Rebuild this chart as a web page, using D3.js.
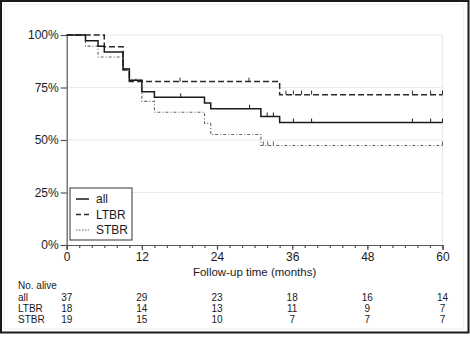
<!DOCTYPE html>
<html><head><meta charset="utf-8">
<script src="https://cdn.jsdelivr.net/npm/d3@7"></script>
<style>html,body{margin:0;padding:0;background:#fff}svg{display:block;font-family:Arial,"Liberation Sans",sans-serif}</style>
</head><body>
<script>
// ---- data ----
const seriesNames = ["all", "LTBR", "STBR"];
const allTimes = [0, 3, 5, 6, 9, 10, 12, 14, 22, 23, 31, 34];
const allSurv  = [100, 97.3, 94.6, 91.9, 83.8, 78.4, 73.0, 70.3, 67.6, 64.9, 61.2, 58.3];
const allCens  = [18.2, 29.2, 32, 33, 36.2, 39.1, 55.2, 58.1, 60];
const ltbrTimes = [0, 6, 9, 10, 34];
const ltbrSurv  = [100, 94.4, 83.3, 77.8, 71.6];
const ltbrCens  = [18.1, 29.1, 35, 36.2, 37.5, 39.1, 55.2, 58.1, 60];
const stbrTimes = [0, 3, 5, 9, 10, 12, 14, 22, 23, 31];
const stbrSurv  = [100, 94.7, 89.5, 84.2, 78.9, 68.4, 63.2, 57.9, 52.6, 47.4];
const stbrCens  = [31.4, 32.1, 33, 60];
const xTicks = [0, 12, 24, 36, 48, 60];
const yTicks = [0, 25, 50, 75, 100];
const yTickLabels = ["0%", "25%", "50%", "75%", "100%"];
const riskRows = ["all", "LTBR", "STBR"];
const riskAll  = [37, 29, 23, 18, 16, 14];
const riskLtbr = [18, 14, 13, 11, 9, 7];
const riskStbr = [19, 15, 10, 7, 7, 7];
const xTitle = "Follow-up time (months)";
const riskTitle = "No. alive";

const W = 470, H = 338;
const svg = d3.select("body").append("svg").attr("width", W).attr("height", H);

const x = d3.scaleLinear().domain([0, 60]).range([66.7, 442.5]);
const y = d3.scaleLinear().domain([0, 100]).range([245, 35]);

// outer frame
svg.append("rect").attr("x", 1).attr("y", 1).attr("width", 467.5).attr("height", 331.5)
  .attr("fill", "none").attr("stroke", "#1a1a1a").attr("stroke-width", 2);
svg.append("rect").attr("x", 4.5).attr("y", 4.5).attr("width", 459).attr("height", 324)
  .attr("fill", "none").attr("stroke", "#f2f4f4").attr("stroke-width", 1);

// gridlines
svg.append("g").selectAll("line").data(yTicks.filter(d => d > 0)).join("line")
  .attr("x1", x(0)).attr("x2", x(60)).attr("y1", d => y(d)).attr("y2", d => y(d))
  .attr("stroke", "#e3ecee").attr("stroke-width", 1.2);
svg.append("line").attr("x1", x(60)).attr("x2", x(60)).attr("y1", y(100)).attr("y2", y(0))
  .attr("stroke", "#e3ecee").attr("stroke-width", 1.2);

// axes
const yAxis = d3.axisLeft(y).tickValues(yTicks).tickFormat((d, i) => yTickLabels[i]).tickSize(6).tickPadding(2);
const gy = svg.append("g").attr("transform", `translate(${x(0)},0)`).call(yAxis);
const xAxisMinor = d3.axisBottom(x).tickValues(d3.range(0, 61, 2)).tickFormat("").tickSize(3);
const gxm = svg.append("g").attr("transform", `translate(0,${y(0)})`).call(xAxisMinor);
const xAxis = d3.axisBottom(x).tickValues(xTicks).tickSize(5).tickPadding(2);
const gx = svg.append("g").attr("transform", `translate(0,${y(0)})`).call(xAxis);
[gy, gx, gxm].forEach(g => {
  g.select(".domain").attr("stroke", "#555").attr("stroke-width", 1.2);
  g.selectAll(".tick line").attr("stroke", "#555").attr("stroke-width", 1.2);
  g.selectAll("text").attr("fill", "#1a1a1a").attr("font-size", 12).attr("font-family", "Arial, 'Liberation Sans', sans-serif");
});
gxm.select(".domain").remove();

svg.append("text").attr("x", x(30)).attr("y", 275.5).attr("text-anchor", "middle")
  .attr("font-size", 11.5).attr("fill", "#1a1a1a").text(xTitle);

// curves
const stepLine = d3.line().x(d => x(d[0])).y(d => y(d[1])).curve(d3.curveStepAfter);
function drawSeries(times, surv, cens, style) {
  const pts = times.map((t, i) => [t, surv[i]]);
  pts.push([60, surv[surv.length - 1]]);
  svg.append("path").datum(pts).attr("d", stepLine).attr("fill", "none")
    .attr("stroke", style.color).attr("stroke-width", style.width)
    .attr("stroke-dasharray", style.dash);
  const survAt = t => { let s = surv[0]; times.forEach((tt, i) => { if (tt <= t) s = surv[i]; }); return s; };
  svg.append("g").selectAll("line").data(cens).join("line")
    .attr("x1", d => x(d)).attr("x2", d => x(d))
    .attr("y1", d => y(survAt(d))).attr("y2", d => y(survAt(d)) - 4)
    .attr("stroke", style.color).attr("stroke-width", 1);
}
const styles = {
  all:  {color: "#1a1a1a", width: 1.5, dash: null},
  LTBR: {color: "#2a2a2a", width: 1.5, dash: "6,3"},
  STBR: {color: "#666", width: 1.1, dash: "3,2,1,2"}
};
drawSeries(stbrTimes, stbrSurv, stbrCens, styles.STBR);
drawSeries(ltbrTimes, ltbrSurv, ltbrCens, styles.LTBR);
drawSeries(allTimes, allSurv, allCens, styles.all);

// legend
const lg = svg.append("g");
lg.append("rect").attr("x", 70).attr("y", 188).attr("width", 62).attr("height", 52)
  .attr("fill", "#fff").attr("stroke", "#333").attr("stroke-width", 1);
seriesNames.forEach((n, i) => {
  const yy = 199 + i * 15.5;
  lg.append("line").attr("x1", 76).attr("x2", 89).attr("y1", yy).attr("y2", yy)
    .attr("stroke", styles[n].color).attr("stroke-width", styles[n].width)
    .attr("stroke-dasharray", n === "LTBR" ? "5,3" : (n === "STBR" ? "1.5,1.5" : null));
  lg.append("text").attr("x", 96).attr("y", yy + 4.3).attr("font-size", 12)
    .attr("fill", "#1a1a1a").text(n);
});

// risk table
svg.append("text").attr("x", 18).attr("y", 289).attr("font-size", 10).attr("fill", "#1a1a1a").text(riskTitle);
const riskData = [riskAll, riskLtbr, riskStbr];
riskRows.forEach((r, i) => {
  const yy = 300.5 + i * 11.2;
  svg.append("text").attr("x", 18).attr("y", yy).attr("font-size", 10).attr("fill", "#1a1a1a").text(r);
  svg.append("g").selectAll("text").data(riskData[i]).join("text")
    .attr("x", (d, j) => x(xTicks[j])).attr("y", yy).attr("text-anchor", "middle")
    .attr("font-size", 10).attr("fill", "#1a1a1a").text(d => d);
});
</script>
</body></html>
